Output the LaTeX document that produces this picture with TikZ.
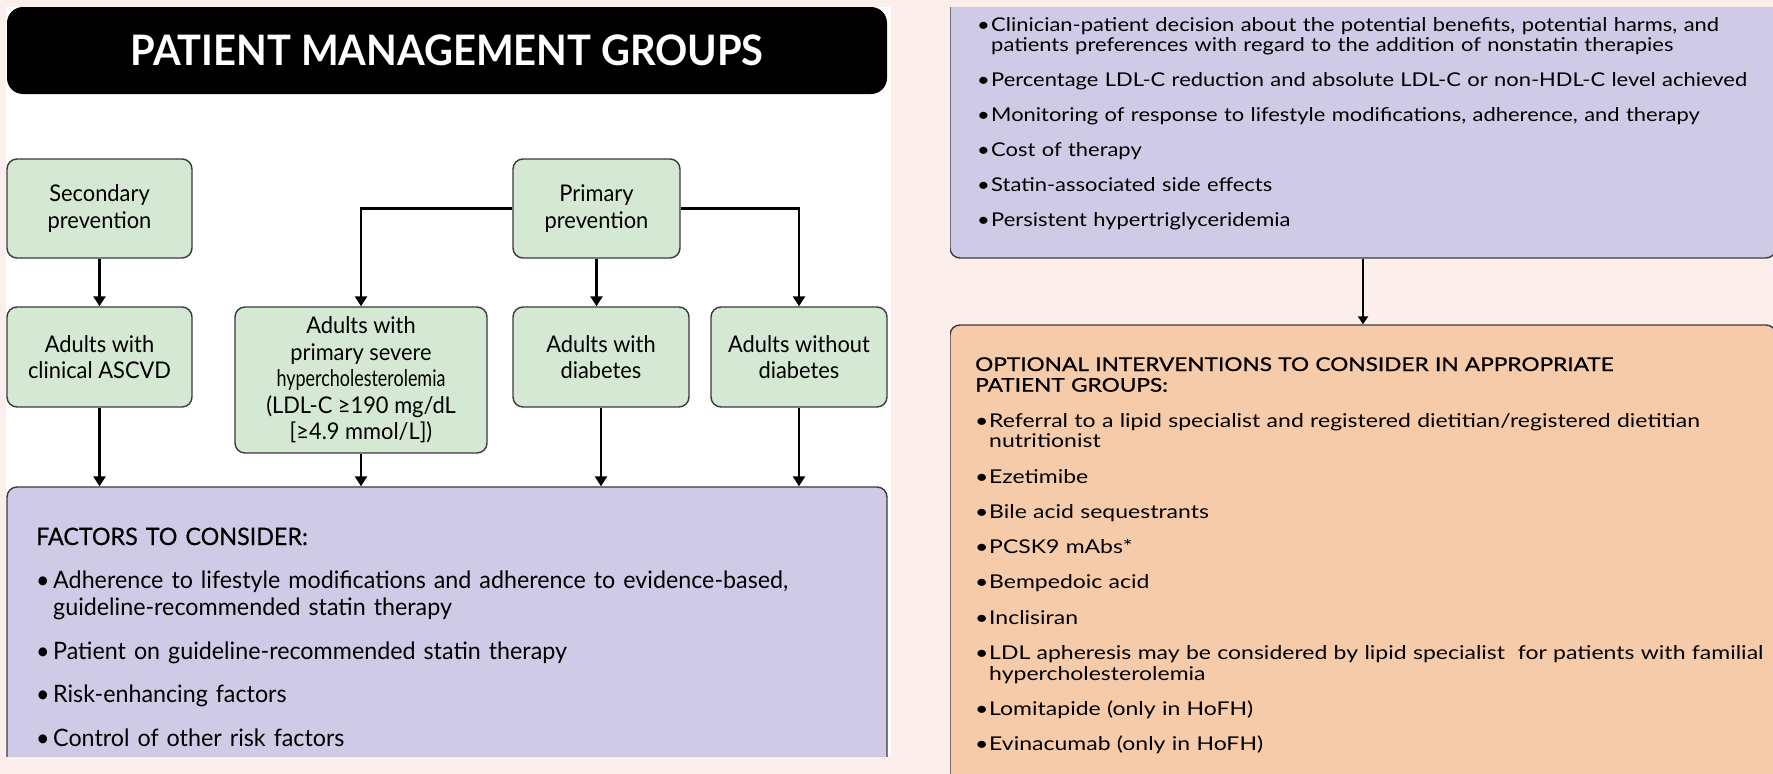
\documentclass[tikz,border=0pt]{standalone}
\usepackage{fontspec}
\setmainfont{Lato}
\newfontfamily\boxfont{Lato}[FakeStretch=0.95]
\newfontfamily\boxnarrowfont{Lato}[FakeStretch=0.78]
\newfontfamily\titlefont{Lato}[FakeStretch=0.95]
\newfontfamily\leftfont{Lato}[FakeStretch=0.97]
\newfontfamily\leftheadfont{Lato}[FakeStretch=0.97,FakeBold=0.5]
\newfontfamily\goalfont{Lato}[FakeStretch=1.155]
\newfontfamily\rightfont{Lato}[FakeStretch=1.21]
\newfontfamily\rightheadfont{Lato}[FakeStretch=1.19,FakeBold=0.8]
\newfontfamily\symfont{DejaVu Sans}
\usetikzlibrary{arrows.meta}

\definecolor{pagebg}{HTML}{FCEEEA}
\definecolor{boxgreen}{HTML}{D5E8D4}
\definecolor{boxpurple}{HTML}{CFCBE6}
\definecolor{boxorange}{HTML}{F6CBAA}
\definecolor{edge}{HTML}{3A3A3A}

% greater-or-equal sign, taken from DejaVu Sans if the current font lacks it
\newcommand\gesign{\iffontchar\font"2265 ≥\else{\symfont ≥}\fi}

% bullet items with a hanging indent of \bulletw
\newlength\bulletw
\newcommand\bitemfirst[1]{\hangindent=\bulletw\hangafter=1\makebox[\bulletw][l]{\textbullet}#1}
\newcommand\bitem[1]{\par\hangindent=\bulletw\hangafter=1\noindent\makebox[\bulletw][l]{\textbullet}#1}

\begin{document}
\begin{tikzpicture}[x=1pt,y=-1pt,
  groupbox/.style={draw=edge, line width=1.4pt, rounded corners=10pt, fill=boxgreen,
    align=center, inner sep=0pt, font=\boxfont\fontsize{23}{26.5}\selectfont},
  bigbox/.style={draw=edge, line width=1.4pt, rounded corners=10pt, inner sep=0pt},
  flow/.style={line width=2.6pt, -{Triangle[width=12pt,length=10pt]}},
  flowthin/.style={line width=2pt, -{Triangle[width=10pt,length=8pt]}},
  listtext/.style={inner sep=0pt, anchor=base west, align=left}
]
\useasboundingbox (0,0) rectangle (1773,774);
\fill[pagebg] (0,0) rectangle (1773,774);

% ---------- left panel: patient management groups ----------
\begin{scope}
  \clip (6,7) rectangle (891,756);
  \fill[white] (6,7) rectangle (891,756);

  \node[fill=black, rounded corners=16pt, minimum width=880pt, minimum height=87pt,
        text=white, font=\titlefont\fontsize{42}{44}\selectfont\bfseries]
        (title) at (447,50.5) {PATIENT MANAGEMENT GROUPS};

  \node[groupbox, minimum width=185pt, minimum height=99pt] (sec) at (99.5,208.5)
        {Secondary\\prevention};
  \node[groupbox, minimum width=167pt, minimum height=99pt] (prim) at (596.5,208.5)
        {Primary\\prevention};

  \node[groupbox, minimum width=185pt, minimum height=100pt] (ascvd) at (99.5,357)
        {Adults with\\clinical ASCVD};
  \node[groupbox, minimum width=252pt, minimum height=146pt] (severe) at (361,380)
        {Adults with\\primary severe\\{\boxnarrowfont hypercholesterolemia}\\(LDL-C \gesign190 mg/dL\\{[}\gesign4.9 mmol/L{]})};
  \node[groupbox, minimum width=176pt, minimum height=100pt] (diab) at (601,357)
        {Adults with\\diabetes};
  \node[groupbox, minimum width=176pt, minimum height=100pt] (nodiab) at (799,357)
        {Adults without\\diabetes};

  \node[bigbox, fill=boxpurple, minimum width=880pt, minimum height=333pt]
        (factors) at (447,653.5) {};

  \draw[flow] (sec) -- (ascvd);
  \draw[flow] (prim.west) -| (severe.north);
  \draw[flow] (prim.east) -| (nodiab.north);
  \draw[flow] (prim.south) -- (prim.south |- diab.north);

  \draw[flow] (ascvd) -- (ascvd |- factors.north);
  \draw[flow] (severe) -- (severe |- factors.north);
  \draw[flow] (diab) -- (diab |- factors.north);
  \draw[flow] (nodiab) -- (nodiab |- factors.north);

  \setlength\bulletw{17pt}
  \node[listtext, text width=845pt, font=\leftfont\fontsize{24}{27}\selectfont]
        (factorlist) at (36,545) {%
    \parindent=0pt\parskip=16.5pt
    {\leftheadfont FACTORS TO CONSIDER:}
    \bitem{Adherence to lifestyle modifications and adherence to evidence-based,\newline
           guideline-recommended statin therapy}
    \bitem{Patient on guideline-recommended statin therapy}
    \bitem{Risk-enhancing factors}
    \bitem{Control of other risk factors}\par};
\end{scope}

% ---------- right panel: considerations and optional interventions ----------
\begin{scope}
  \clip (950,7) rectangle (1773,774);

  \node[bigbox, fill=boxpurple, minimum width=826pt, minimum height=308pt]
        (goals) at (1363,104) {};
  \node[bigbox, fill=boxorange, minimum width=826pt, minimum height=505pt]
        (optional) at (1363,577.5) {};

  \draw[flowthin] (goals) -- (optional);

  \setlength\bulletw{14pt}
  \node[listtext, text width=790pt, font=\goalfont\fontsize{19}{20.7}\selectfont]
        (goallist) at (977,31) {%
    \parindent=0pt\parskip=14.2pt
    \bitemfirst{Clinician-patient decision about the potential benefits, potential harms, and\newline
           patients preferences with regard to the addition of nonstatin therapies}
    \bitem{Percentage LDL-C reduction and absolute LDL-C or non-HDL-C level achieved}
    \bitem{Monitoring of response to lifestyle modifications, adherence, and therapy}
    \bitem{Cost of therapy}
    \bitem{Statin-associated side effects}
    \bitem{Persistent hypertriglyceridemia}\par};

  \node[listtext, text width=790pt, font=\rightfont\fontsize{19}{20.7}\selectfont]
        (optionlist) at (975,371) {%
    \parindent=0pt\parskip=14.6pt
    {\rightheadfont OPTIONAL INTERVENTIONS TO CONSIDER IN APPROPRIATE\newline
     PATIENT GROUPS:}
    \bitem{Referral to a lipid specialist and registered dietitian/registered dietitian\newline
           nutritionist}
    \bitem{Ezetimibe}
    \bitem{Bile acid sequestrants}
    \bitem{PCSK9 mAbs*}
    \bitem{Bempedoic acid}
    \bitem{Inclisiran}
    \bitem{LDL apheresis may be considered by lipid specialist\ \ for patients with familial\newline
           hypercholesterolemia}
    \bitem{Lomitapide (only in HoFH)}
    \bitem{Evinacumab (only in HoFH)}\par};
\end{scope}
\end{tikzpicture}
\end{document}
